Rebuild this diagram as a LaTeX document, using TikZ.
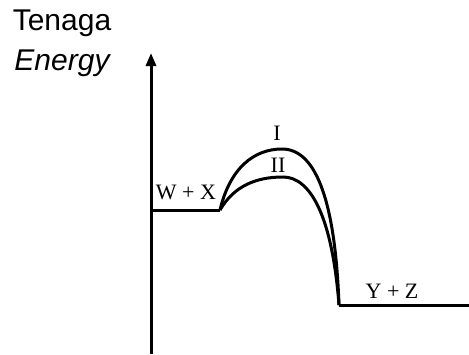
\documentclass[tikz,border=0pt]{standalone}
\usepackage{fontspec}
\setmainfont{Liberation Serif}
\newfontfamily\arialfont{Liberation Sans}
\usetikzlibrary{arrows.meta}
\begin{document}
\begin{tikzpicture}[x=1pt,y=-1pt,
  curve/.style={line width=3pt,line join=round},
  lbl/.style={font=\fontsize{22}{25}\selectfont,inner sep=0pt},
  axlbl/.style={font=\arialfont\fontsize{30}{34}\selectfont,inner sep=0pt}]
\useasboundingbox (0,0) rectangle (469,354);
\coordinate (o) at (151,354);
\coordinate (top) at (151,53);
\coordinate (a) at (151,210);
\coordinate (b) at (220,210);
\coordinate (pI) at (282,149);
\coordinate (pII) at (283,177);
\coordinate (c) at (339,305);
\coordinate (d) at (469,305);
\draw[line width=3pt,-{Triangle[length=13pt,width=10pt]}] (o) -- (top);
\draw[curve] (a) -- (b);
\draw[curve] (b) .. controls (230,168) and (254,149) .. (pI)
  .. controls (314,149) and (335,195) .. (c);
\draw[curve] (b) .. controls (234,186) and (256,177) .. (pII)
  .. controls (310,177) and (332,215) .. (c);
\draw[curve] (c) -- (d);
\node[axlbl] (ten) at (62,23) {Tenaga};
\node[axlbl] (en) at (62,63) {\itshape Energy};
\node[lbl] (wx) at (186,192) {W + X};
\node[lbl] (I) at (277,133) {I};
\node[lbl] (II) at (278,165) {II};
\node[lbl] (yz) at (392,291) {Y + Z};
\end{tikzpicture}
\end{document}
